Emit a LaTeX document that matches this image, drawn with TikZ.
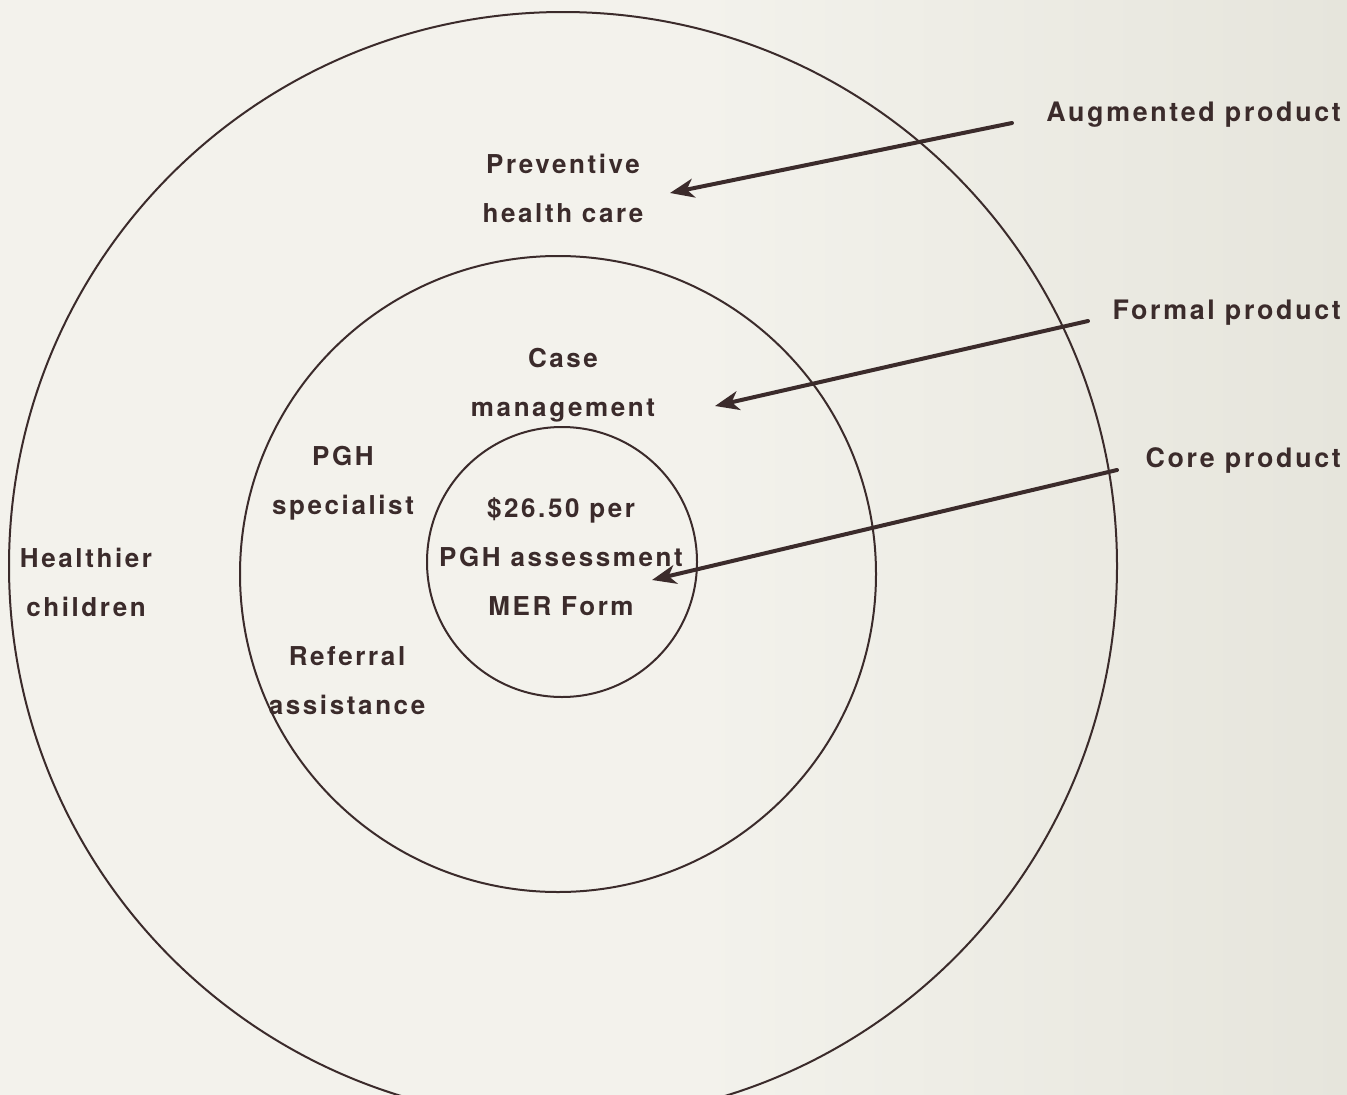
\documentclass[tikz,border=0pt]{standalone}
\usepackage{fontspec}
\setmainfont{TeX Gyre Heros}[LetterSpace=10]
\usetikzlibrary{arrows.meta}
\definecolor{ink}{HTML}{3B2B2B}
\definecolor{paperL}{HTML}{F3F2EC}
\definecolor{paperR}{HTML}{E6E5DC}
\begin{document}
\begin{tikzpicture}[x=1pt,y=-1pt,
  ring/.style={draw=ink, line width=2pt},
  lbl/.style={font=\bfseries\fontsize{26}{49}\selectfont, text=ink, align=center, inner sep=0pt},
  tag/.style={lbl, font=\bfseries\fontsize{26.8}{49}\selectfont, anchor=east},
  pointer/.style={draw=ink, line width=4pt, line cap=round,
    -{Stealth[length=24pt,width=19pt,inset=7pt]}}]
\useasboundingbox (0,0) rectangle (1347,1095);
\fill[paperL] (0,0) rectangle (1347,1095);
\shade[left color=paperL, right color=paperR] (700,0) rectangle (1347,1095);
\clip (0,0) rectangle (1347,1095);

% three nested product levels
\coordinate (cOuter) at (563,566);
\coordinate (cMid) at (558,574);
\coordinate (cCore) at (562,562);
\draw[ring] (cOuter) circle[radius=554pt];
\draw[ring] (cMid) circle[radius=318pt];
\draw[ring] (cCore) circle[radius=135pt];

% level contents
\node[lbl] (prev) at (563,188) {Preventive\\health care};
\node[lbl] (case) at (563,385) {Case\\management};
\node[lbl] (spec) at (343,483) {PGH\\specialist};
\node[lbl] (core) at (561,557) {\$26.50 per\\PGH assessment\\MER Form};
\node[lbl] (kids) at (86,582) {Healthier\\children};
\node[lbl] (refer) at (347,681) {Referral\\assistance};

% level names
\node[tag] (aug) at (1341,115) {Augmented product};
\node[tag] (formal) at (1341,313) {Formal product};
\node[tag] (corep) at (1341,460) {Core product};

\coordinate (augS) at (1012,123);
\coordinate (augT) at (670,193);
\coordinate (formS) at (1088,321);
\coordinate (formT) at (715,406);
\coordinate (coreS) at (1117,470);
\coordinate (coreT) at (652,580);
\draw[pointer] (augS) -- (augT);
\draw[pointer] (formS) -- (formT);
\draw[pointer] (coreS) -- (coreT);
\end{tikzpicture}
\end{document}
